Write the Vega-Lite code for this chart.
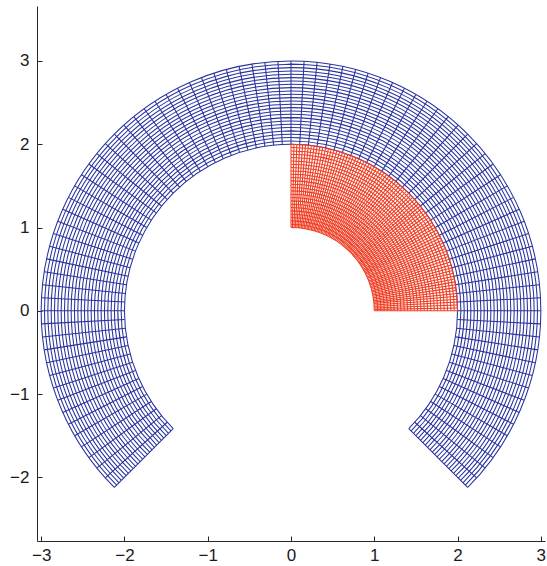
{
  "$schema": "https://vega.github.io/schema/vega-lite/v6.json",
  "width": 508,
  "height": 535,
  "autosize": {"type": "none"},
  "padding": {"left": 37, "top": 6, "right": 2, "bottom": 25},
  "config": {
    "view": {"stroke": null},
    "axis": {
      "grid": false,
      "title": null,
      "domainColor": "#262626",
      "domainWidth": 1,
      "tickColor": "#262626",
      "tickSize": -5,
      "labelFont": "Liberation Sans",
      "labelFontSize": 17,
      "labelColor": "#1a1a1a",
      "format": "d"
    }
  },
  "encoding": {
    "x": {
      "datum": 0,
      "type": "quantitative",
      "scale": {"domain": [-3.05, 3.05], "nice": false, "zero": false},
      "axis": {"values": [-3, -2, -1, 0, 1, 2, 3], "labelPadding": 11}
    },
    "y": {
      "datum": 0,
      "type": "quantitative",
      "scale": {"domain": [-2.764, 3.66], "nice": false, "zero": false},
      "axis": {"values": [-2, -1, 0, 1, 2, 3], "labelPadding": 13}
    },
    "color": {
      "field": "g",
      "type": "nominal",
      "scale": {"domain": ["b", "r"], "range": ["#28339e", "#f03c22"]},
      "legend": null
    }
  },
  "layer": [
    {
      "data": {
        "values": [
          {"g": "b", "r": 2.00, "a": -45, "a2": 225},
          {"g": "b", "r": 2.04, "a": -45, "a2": 225},
          {"g": "b", "r": 2.08, "a": -45, "a2": 225},
          {"g": "b", "r": 2.12, "a": -45, "a2": 225},
          {"g": "b", "r": 2.16, "a": -45, "a2": 225},
          {"g": "b", "r": 2.20, "a": -45, "a2": 225},
          {"g": "b", "r": 2.24, "a": -45, "a2": 225},
          {"g": "b", "r": 2.28, "a": -45, "a2": 225},
          {"g": "b", "r": 2.32, "a": -45, "a2": 225},
          {"g": "b", "r": 2.36, "a": -45, "a2": 225},
          {"g": "b", "r": 2.40, "a": -45, "a2": 225},
          {"g": "b", "r": 2.44, "a": -45, "a2": 225},
          {"g": "b", "r": 2.48, "a": -45, "a2": 225},
          {"g": "b", "r": 2.52, "a": -45, "a2": 225},
          {"g": "b", "r": 2.56, "a": -45, "a2": 225},
          {"g": "b", "r": 2.60, "a": -45, "a2": 225},
          {"g": "b", "r": 2.64, "a": -45, "a2": 225},
          {"g": "b", "r": 2.68, "a": -45, "a2": 225},
          {"g": "b", "r": 2.72, "a": -45, "a2": 225},
          {"g": "b", "r": 2.76, "a": -45, "a2": 225},
          {"g": "b", "r": 2.80, "a": -45, "a2": 225},
          {"g": "b", "r": 2.84, "a": -45, "a2": 225},
          {"g": "b", "r": 2.88, "a": -45, "a2": 225},
          {"g": "b", "r": 2.92, "a": -45, "a2": 225},
          {"g": "b", "r": 2.96, "a": -45, "a2": 225},
          {"g": "b", "r": 3.00, "a": -45, "a2": 225},
          {"g": "r", "r": 1.00, "a": 0, "a2": 90},
          {"g": "r", "r": 1.04, "a": 0, "a2": 90},
          {"g": "r", "r": 1.08, "a": 0, "a2": 90},
          {"g": "r", "r": 1.12, "a": 0, "a2": 90},
          {"g": "r", "r": 1.16, "a": 0, "a2": 90},
          {"g": "r", "r": 1.20, "a": 0, "a2": 90},
          {"g": "r", "r": 1.24, "a": 0, "a2": 90},
          {"g": "r", "r": 1.28, "a": 0, "a2": 90},
          {"g": "r", "r": 1.32, "a": 0, "a2": 90},
          {"g": "r", "r": 1.36, "a": 0, "a2": 90},
          {"g": "r", "r": 1.40, "a": 0, "a2": 90},
          {"g": "r", "r": 1.44, "a": 0, "a2": 90},
          {"g": "r", "r": 1.48, "a": 0, "a2": 90},
          {"g": "r", "r": 1.52, "a": 0, "a2": 90},
          {"g": "r", "r": 1.56, "a": 0, "a2": 90},
          {"g": "r", "r": 1.60, "a": 0, "a2": 90},
          {"g": "r", "r": 1.64, "a": 0, "a2": 90},
          {"g": "r", "r": 1.68, "a": 0, "a2": 90},
          {"g": "r", "r": 1.72, "a": 0, "a2": 90},
          {"g": "r", "r": 1.76, "a": 0, "a2": 90},
          {"g": "r", "r": 1.80, "a": 0, "a2": 90},
          {"g": "r", "r": 1.84, "a": 0, "a2": 90},
          {"g": "r", "r": 1.88, "a": 0, "a2": 90},
          {"g": "r", "r": 1.92, "a": 0, "a2": 90},
          {"g": "r", "r": 1.96, "a": 0, "a2": 90},
          {"g": "r", "r": 2.00, "a": 0, "a2": 90}
        ]
      },
      "mark": {"type": "arc", "filled": false, "strokeWidth": 1.05},
      "encoding": {
        "theta": {
          "field": "a",
          "type": "quantitative",
          "stack": null,
          "scale": {"domain": [90, -270], "range": [0, 6.283185307179586]}
        },
        "theta2": {"field": "a2"},
        "radius": {
          "field": "r",
          "type": "quantitative",
          "scale": {"type": "linear", "domain": [0, 3.05], "range": [0, 254], "zero": true}
        },
        "radius2": {"field": "r"}
      }
    },
    {
      "data": {
        "values": [
          {"g": "b", "a": -45, "r": 2, "r2": 3}, {"g": "b", "a": -42, "r": 2, "r2": 3},
          {"g": "b", "a": -39, "r": 2, "r2": 3}, {"g": "b", "a": -36, "r": 2, "r2": 3},
          {"g": "b", "a": -33, "r": 2, "r2": 3}, {"g": "b", "a": -30, "r": 2, "r2": 3},
          {"g": "b", "a": -27, "r": 2, "r2": 3}, {"g": "b", "a": -24, "r": 2, "r2": 3},
          {"g": "b", "a": -21, "r": 2, "r2": 3}, {"g": "b", "a": -18, "r": 2, "r2": 3},
          {"g": "b", "a": -15, "r": 2, "r2": 3}, {"g": "b", "a": -12, "r": 2, "r2": 3},
          {"g": "b", "a": -9, "r": 2, "r2": 3}, {"g": "b", "a": -6, "r": 2, "r2": 3},
          {"g": "b", "a": -3, "r": 2, "r2": 3}, {"g": "b", "a": 0, "r": 2, "r2": 3},
          {"g": "b", "a": 3, "r": 2, "r2": 3}, {"g": "b", "a": 6, "r": 2, "r2": 3},
          {"g": "b", "a": 9, "r": 2, "r2": 3}, {"g": "b", "a": 12, "r": 2, "r2": 3},
          {"g": "b", "a": 15, "r": 2, "r2": 3}, {"g": "b", "a": 18, "r": 2, "r2": 3},
          {"g": "b", "a": 21, "r": 2, "r2": 3}, {"g": "b", "a": 24, "r": 2, "r2": 3},
          {"g": "b", "a": 27, "r": 2, "r2": 3}, {"g": "b", "a": 30, "r": 2, "r2": 3},
          {"g": "b", "a": 33, "r": 2, "r2": 3}, {"g": "b", "a": 36, "r": 2, "r2": 3},
          {"g": "b", "a": 39, "r": 2, "r2": 3}, {"g": "b", "a": 42, "r": 2, "r2": 3},
          {"g": "b", "a": 45, "r": 2, "r2": 3}, {"g": "b", "a": 48, "r": 2, "r2": 3},
          {"g": "b", "a": 51, "r": 2, "r2": 3}, {"g": "b", "a": 54, "r": 2, "r2": 3},
          {"g": "b", "a": 57, "r": 2, "r2": 3}, {"g": "b", "a": 60, "r": 2, "r2": 3},
          {"g": "b", "a": 63, "r": 2, "r2": 3}, {"g": "b", "a": 66, "r": 2, "r2": 3},
          {"g": "b", "a": 69, "r": 2, "r2": 3}, {"g": "b", "a": 72, "r": 2, "r2": 3},
          {"g": "b", "a": 75, "r": 2, "r2": 3}, {"g": "b", "a": 78, "r": 2, "r2": 3},
          {"g": "b", "a": 81, "r": 2, "r2": 3}, {"g": "b", "a": 84, "r": 2, "r2": 3},
          {"g": "b", "a": 87, "r": 2, "r2": 3}, {"g": "b", "a": 90, "r": 2, "r2": 3},
          {"g": "b", "a": 93, "r": 2, "r2": 3}, {"g": "b", "a": 96, "r": 2, "r2": 3},
          {"g": "b", "a": 99, "r": 2, "r2": 3}, {"g": "b", "a": 102, "r": 2, "r2": 3},
          {"g": "b", "a": 105, "r": 2, "r2": 3}, {"g": "b", "a": 108, "r": 2, "r2": 3},
          {"g": "b", "a": 111, "r": 2, "r2": 3}, {"g": "b", "a": 114, "r": 2, "r2": 3},
          {"g": "b", "a": 117, "r": 2, "r2": 3}, {"g": "b", "a": 120, "r": 2, "r2": 3},
          {"g": "b", "a": 123, "r": 2, "r2": 3}, {"g": "b", "a": 126, "r": 2, "r2": 3},
          {"g": "b", "a": 129, "r": 2, "r2": 3}, {"g": "b", "a": 132, "r": 2, "r2": 3},
          {"g": "b", "a": 135, "r": 2, "r2": 3}, {"g": "b", "a": 138, "r": 2, "r2": 3},
          {"g": "b", "a": 141, "r": 2, "r2": 3}, {"g": "b", "a": 144, "r": 2, "r2": 3},
          {"g": "b", "a": 147, "r": 2, "r2": 3}, {"g": "b", "a": 150, "r": 2, "r2": 3},
          {"g": "b", "a": 153, "r": 2, "r2": 3}, {"g": "b", "a": 156, "r": 2, "r2": 3},
          {"g": "b", "a": 159, "r": 2, "r2": 3}, {"g": "b", "a": 162, "r": 2, "r2": 3},
          {"g": "b", "a": 165, "r": 2, "r2": 3}, {"g": "b", "a": 168, "r": 2, "r2": 3},
          {"g": "b", "a": 171, "r": 2, "r2": 3}, {"g": "b", "a": 174, "r": 2, "r2": 3},
          {"g": "b", "a": 177, "r": 2, "r2": 3}, {"g": "b", "a": 180, "r": 2, "r2": 3},
          {"g": "b", "a": 183, "r": 2, "r2": 3}, {"g": "b", "a": 186, "r": 2, "r2": 3},
          {"g": "b", "a": 189, "r": 2, "r2": 3}, {"g": "b", "a": 192, "r": 2, "r2": 3},
          {"g": "b", "a": 195, "r": 2, "r2": 3}, {"g": "b", "a": 198, "r": 2, "r2": 3},
          {"g": "b", "a": 201, "r": 2, "r2": 3}, {"g": "b", "a": 204, "r": 2, "r2": 3},
          {"g": "b", "a": 207, "r": 2, "r2": 3}, {"g": "b", "a": 210, "r": 2, "r2": 3},
          {"g": "b", "a": 213, "r": 2, "r2": 3}, {"g": "b", "a": 216, "r": 2, "r2": 3},
          {"g": "b", "a": 219, "r": 2, "r2": 3}, {"g": "b", "a": 222, "r": 2, "r2": 3},
          {"g": "b", "a": 225, "r": 2, "r2": 3},
          {"g": "r", "a": 0, "r": 1, "r2": 2}, {"g": "r", "a": 1, "r": 1, "r2": 2},
          {"g": "r", "a": 2, "r": 1, "r2": 2}, {"g": "r", "a": 3, "r": 1, "r2": 2},
          {"g": "r", "a": 4, "r": 1, "r2": 2}, {"g": "r", "a": 5, "r": 1, "r2": 2},
          {"g": "r", "a": 6, "r": 1, "r2": 2}, {"g": "r", "a": 7, "r": 1, "r2": 2},
          {"g": "r", "a": 8, "r": 1, "r2": 2}, {"g": "r", "a": 9, "r": 1, "r2": 2},
          {"g": "r", "a": 10, "r": 1, "r2": 2}, {"g": "r", "a": 11, "r": 1, "r2": 2},
          {"g": "r", "a": 12, "r": 1, "r2": 2}, {"g": "r", "a": 13, "r": 1, "r2": 2},
          {"g": "r", "a": 14, "r": 1, "r2": 2}, {"g": "r", "a": 15, "r": 1, "r2": 2},
          {"g": "r", "a": 16, "r": 1, "r2": 2}, {"g": "r", "a": 17, "r": 1, "r2": 2},
          {"g": "r", "a": 18, "r": 1, "r2": 2}, {"g": "r", "a": 19, "r": 1, "r2": 2},
          {"g": "r", "a": 20, "r": 1, "r2": 2}, {"g": "r", "a": 21, "r": 1, "r2": 2},
          {"g": "r", "a": 22, "r": 1, "r2": 2}, {"g": "r", "a": 23, "r": 1, "r2": 2},
          {"g": "r", "a": 24, "r": 1, "r2": 2}, {"g": "r", "a": 25, "r": 1, "r2": 2},
          {"g": "r", "a": 26, "r": 1, "r2": 2}, {"g": "r", "a": 27, "r": 1, "r2": 2},
          {"g": "r", "a": 28, "r": 1, "r2": 2}, {"g": "r", "a": 29, "r": 1, "r2": 2},
          {"g": "r", "a": 30, "r": 1, "r2": 2}, {"g": "r", "a": 31, "r": 1, "r2": 2},
          {"g": "r", "a": 32, "r": 1, "r2": 2}, {"g": "r", "a": 33, "r": 1, "r2": 2},
          {"g": "r", "a": 34, "r": 1, "r2": 2}, {"g": "r", "a": 35, "r": 1, "r2": 2},
          {"g": "r", "a": 36, "r": 1, "r2": 2}, {"g": "r", "a": 37, "r": 1, "r2": 2},
          {"g": "r", "a": 38, "r": 1, "r2": 2}, {"g": "r", "a": 39, "r": 1, "r2": 2},
          {"g": "r", "a": 40, "r": 1, "r2": 2}, {"g": "r", "a": 41, "r": 1, "r2": 2},
          {"g": "r", "a": 42, "r": 1, "r2": 2}, {"g": "r", "a": 43, "r": 1, "r2": 2},
          {"g": "r", "a": 44, "r": 1, "r2": 2}, {"g": "r", "a": 45, "r": 1, "r2": 2},
          {"g": "r", "a": 46, "r": 1, "r2": 2}, {"g": "r", "a": 47, "r": 1, "r2": 2},
          {"g": "r", "a": 48, "r": 1, "r2": 2}, {"g": "r", "a": 49, "r": 1, "r2": 2},
          {"g": "r", "a": 50, "r": 1, "r2": 2}, {"g": "r", "a": 51, "r": 1, "r2": 2},
          {"g": "r", "a": 52, "r": 1, "r2": 2}, {"g": "r", "a": 53, "r": 1, "r2": 2},
          {"g": "r", "a": 54, "r": 1, "r2": 2}, {"g": "r", "a": 55, "r": 1, "r2": 2},
          {"g": "r", "a": 56, "r": 1, "r2": 2}, {"g": "r", "a": 57, "r": 1, "r2": 2},
          {"g": "r", "a": 58, "r": 1, "r2": 2}, {"g": "r", "a": 59, "r": 1, "r2": 2},
          {"g": "r", "a": 60, "r": 1, "r2": 2}, {"g": "r", "a": 61, "r": 1, "r2": 2},
          {"g": "r", "a": 62, "r": 1, "r2": 2}, {"g": "r", "a": 63, "r": 1, "r2": 2},
          {"g": "r", "a": 64, "r": 1, "r2": 2}, {"g": "r", "a": 65, "r": 1, "r2": 2},
          {"g": "r", "a": 66, "r": 1, "r2": 2}, {"g": "r", "a": 67, "r": 1, "r2": 2},
          {"g": "r", "a": 68, "r": 1, "r2": 2}, {"g": "r", "a": 69, "r": 1, "r2": 2},
          {"g": "r", "a": 70, "r": 1, "r2": 2}, {"g": "r", "a": 71, "r": 1, "r2": 2},
          {"g": "r", "a": 72, "r": 1, "r2": 2}, {"g": "r", "a": 73, "r": 1, "r2": 2},
          {"g": "r", "a": 74, "r": 1, "r2": 2}, {"g": "r", "a": 75, "r": 1, "r2": 2},
          {"g": "r", "a": 76, "r": 1, "r2": 2}, {"g": "r", "a": 77, "r": 1, "r2": 2},
          {"g": "r", "a": 78, "r": 1, "r2": 2}, {"g": "r", "a": 79, "r": 1, "r2": 2},
          {"g": "r", "a": 80, "r": 1, "r2": 2}, {"g": "r", "a": 81, "r": 1, "r2": 2},
          {"g": "r", "a": 82, "r": 1, "r2": 2}, {"g": "r", "a": 83, "r": 1, "r2": 2},
          {"g": "r", "a": 84, "r": 1, "r2": 2}, {"g": "r", "a": 85, "r": 1, "r2": 2},
          {"g": "r", "a": 86, "r": 1, "r2": 2}, {"g": "r", "a": 87, "r": 1, "r2": 2},
          {"g": "r", "a": 88, "r": 1, "r2": 2}, {"g": "r", "a": 89, "r": 1, "r2": 2},
          {"g": "r", "a": 90, "r": 1, "r2": 2}
        ]
      },
      "mark": {"type": "arc", "filled": false, "strokeWidth": 1.05},
      "encoding": {
        "theta": {
          "field": "a",
          "type": "quantitative",
          "stack": null,
          "scale": {"domain": [90, -270], "range": [0, 6.283185307179586]}
        },
        "theta2": {"field": "a"},
        "radius": {
          "field": "r",
          "type": "quantitative",
          "scale": {"type": "linear", "domain": [0, 3.05], "range": [0, 254], "zero": true}
        },
        "radius2": {"field": "r2"}
      }
    }
  ]
}
